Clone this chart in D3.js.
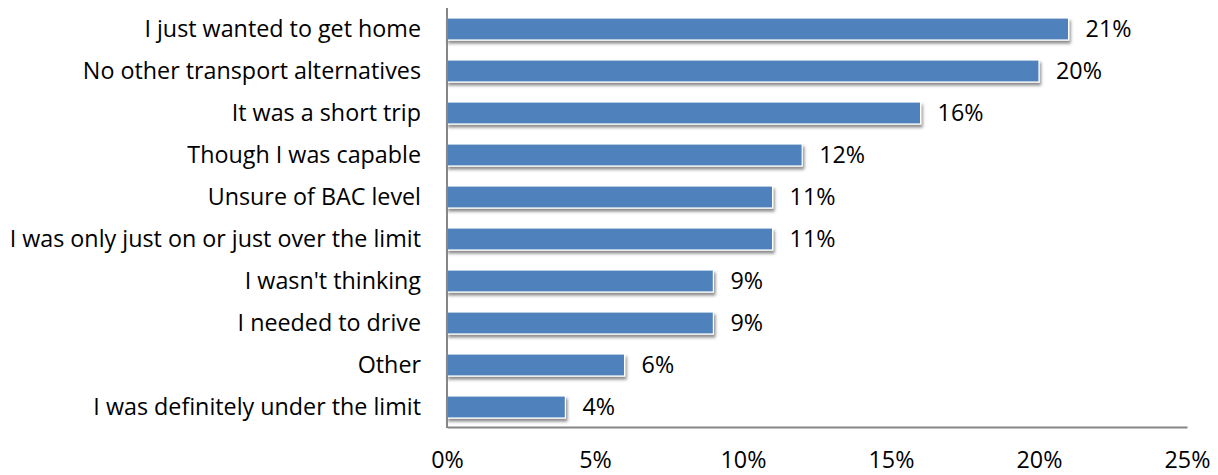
<!DOCTYPE html>
<html><head><meta charset="utf-8">
<script src="https://cdn.jsdelivr.net/npm/d3@7"></script>
<style>body{margin:0;background:#fff}text{font-family:"Open Sans",sans-serif;fill:#000}</style>
</head><body><svg id="c" width="1218" height="475"></svg>
<script>
const categories = ["I just wanted to get home","No other transport alternatives","It was a short trip","Though I was capable","Unsure of BAC level","I was only just on or just over the limit","I wasn't thinking","I needed to drive","Other","I was definitely under the limit"];
const values = [21,20,16,12,11,11,9,9,6,4];
const ticks = [0,5,10,15,20,25];
const FS = 23.3;

const svg = d3.select("#c");
const x = d3.scaleLinear().domain([0,25]).range([447,1187]);
const y = d3.scaleBand().domain(categories).range([8,428]).paddingInner(0.476).paddingOuter(0.238);

const defs = svg.append("defs");
const f = defs.append("filter").attr("id","sh").attr("x","-5%").attr("y","-50%").attr("width","110%").attr("height","220%");
f.append("feDropShadow").attr("dx",1.5).attr("dy",3).attr("stdDeviation",1.6).attr("flood-color","#000").attr("flood-opacity",0.45);

svg.append("g").selectAll("rect").data(values).join("rect")
  .attr("x",x(0)).attr("y",(d,i)=>y(categories[i]))
  .attr("width",d=>x(d)-x(0)).attr("height",y.bandwidth())
  .attr("fill","#4F81BD").attr("stroke","#fff").attr("stroke-width",1.2)
  .attr("filter","url(#sh)");

svg.append("g").selectAll("text").data(values).join("text")
  .attr("x",d=>x(d)+17).attr("y",(d,i)=>y(categories[i])+y.bandwidth()/2)
  .attr("dy","0.36em").attr("font-size",FS).text(d=>d+"%");

svg.append("g").selectAll("text").data(categories).join("text")
  .attr("x",421).attr("y",d=>y(d)+y.bandwidth()/2).attr("dy","0.36em")
  .attr("text-anchor","end").attr("font-size",FS).text(d=>d);

const ax = d3.axisBottom(x).tickValues(ticks).tickSize(0).tickPadding(0).tickFormat(d=>d+"%");
const g = svg.append("g").attr("transform","translate(0,427)").call(ax);
g.select(".domain").attr("stroke","#868686").attr("stroke-width",2);
g.selectAll("text").attr("y",41).attr("dy",0).attr("font-size",FS).attr("font-family","'Open Sans',sans-serif").attr("fill","#000");

svg.append("line").attr("x1",447).attr("x2",447).attr("y1",8).attr("y2",428).attr("stroke","#868686").attr("stroke-width",2);
</script></body></html>
